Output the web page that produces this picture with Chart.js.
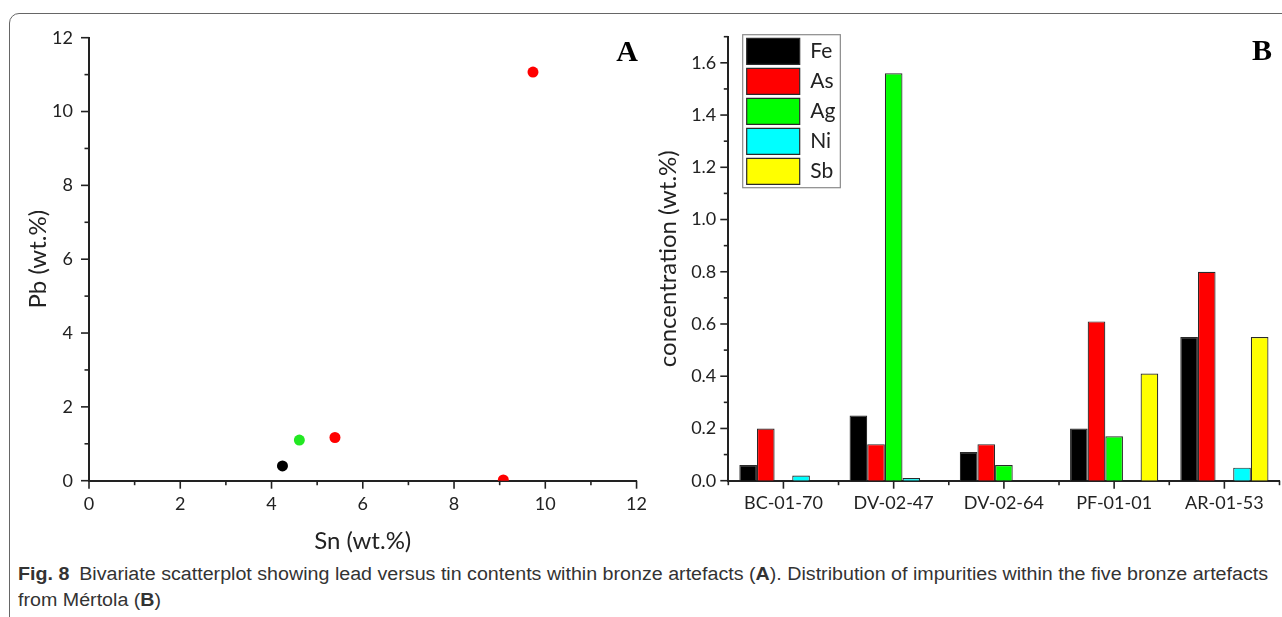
<!DOCTYPE html>
<html>
<head>
<meta charset="utf-8">
<script src="https://cdn.jsdelivr.net/npm/chart.js@4/dist/chart.umd.min.js"></script>
<style>
html,body{margin:0;padding:0;background:#fff;width:1282px;height:617px;overflow:hidden;}
#frame{position:absolute;left:9px;top:12.5px;width:1300px;height:700px;border:1.5px solid #666;border-top-left-radius:10px;box-sizing:border-box;}
#c1{position:absolute;left:0;top:0;}
#c2{position:absolute;left:640px;top:0;}
.panel{position:absolute;width:40px;text-align:center;font-family:"Liberation Serif","Times New Roman",serif;font-weight:bold;font-size:30px;line-height:30px;color:#000;}
#caption{position:absolute;left:18px;top:561px;font-family:"Liberation Sans Narrow","Liberation Sans",Arial,sans-serif;font-size:18px;color:#333;line-height:26px;white-space:nowrap;transform-origin:0 0;}
#caption b{color:#333;}
</style>
</head>
<body>
<div id="frame"></div>
<canvas id="c1" width="660" height="560"></canvas>
<canvas id="c2" width="642" height="560"></canvas>
<div class="panel" style="left:607px;top:35.5px;">A</div>
<div class="panel" style="left:1242px;top:35px;">B</div>
<div id="caption"><span id="line1"><b>Fig. 8</b>&ensp;Bivariate scatterplot showing lead versus tin contents within bronze artefacts (<b>A</b>). Distribution of impurities within the five bronze artefacts</span><br><span>from Mértola (<b>B</b>)</span></div>
<script>
// ---------- data: panel A (scatter) ----------
const snValues = [4.24, 4.61, 5.39, 9.08, 9.73];
const pbValues = [0.40, 1.10, 1.17, 0.02, 11.07];
const pointColors = ['#000000', '#22e822', '#ff0000', '#ff0000', '#ff0000'];
const snTicks = [0, 2, 4, 6, 8, 10, 12];
const pbTicks = [0, 2, 4, 6, 8, 10, 12];

// ---------- data: panel B (bars) ----------
const samples = ['BC-01-70', 'DV-02-47', 'DV-02-64', 'PF-01-01', 'AR-01-53'];
const elements = ['Fe', 'As', 'Ag', 'Ni', 'Sb'];
const feValues = [0.06, 0.25, 0.11, 0.20, 0.55];
const asValues = [0.20, 0.14, 0.14, 0.61, 0.80];
const agValues = [0.00, 1.56, 0.06, 0.17, 0.00];
const niValues = [0.02, 0.01, 0.00, 0.00, 0.05];
const sbValues = [0.00, 0.00, 0.00, 0.41, 0.55];
const elementColors = ['#000000', '#ff0000', '#00ff00', '#00ffff', '#ffff00'];
const concTicks = [0.0, 0.2, 0.4, 0.6, 0.8, 1.0, 1.2, 1.4, 1.6];

const FONT = 'Lato, "Open Sans", sans-serif';
const TXT = '#222';

function midpoints(arr, extraEnd) {
  const out = [];
  for (let i = 0; i < arr.length - 1; i++) out.push((arr[i] + arr[i + 1]) / 2);
  if (extraEnd !== undefined) out.push(extraEnd);
  return out;
}

// draws outward tick marks through the chart's own scales
const tickMarks = {
  id: 'tickMarks',
  afterDraw(chart, args, opts) {
    const ctx = chart.ctx;
    ctx.save();
    ctx.strokeStyle = opts.color;
    ctx.lineWidth = opts.width;
    Object.keys(opts.scales).forEach(id => {
      const s = chart.scales[id];
      const cfg = opts.scales[id];
      const draw = (vals, len) => vals.forEach(v => {
        const p = s.getPixelForValue(v);
        ctx.beginPath();
        if (s.isHorizontal()) { ctx.moveTo(p, s.top); ctx.lineTo(p, s.top + len); }
        else { ctx.moveTo(s.right, p); ctx.lineTo(s.right - len, p); }
        ctx.stroke();
      });
      draw(cfg.major, cfg.majorLen);
      draw(cfg.minor, cfg.minorLen);
    });
    ctx.restore();
  }
};

// ---------- panel A ----------
new Chart(document.getElementById('c1'), {
  type: 'scatter',
  data: {
    datasets: [{
      label: 'Pb vs Sn',
      data: snValues.map((x, i) => ({ x: x, y: pbValues[i] })),
      pointBackgroundColor: pointColors,
      pointBorderColor: pointColors,
      pointRadius: 5.5,
      pointBorderWidth: 0
    }]
  },
  options: {
    responsive: false,
    animation: false,
    events: [],
    layout: { padding: { left: 0, top: 37.7, right: 21, bottom: 0 } },
    plugins: {
      legend: { display: false },
      tooltip: { enabled: false },
      tickMarks: {
        color: '#222', width: 1.6,
        scales: {
          x: { major: snTicks, minor: midpoints(snTicks), majorLen: 8, minorLen: 4.5 },
          y: { major: pbTicks, minor: midpoints(pbTicks), majorLen: 8, minorLen: 4.5 }
        }
      }
    },
    scales: {
      x: {
        type: 'linear', min: 0, max: 12,
        afterBuildTicks: s => { s.ticks = snTicks.map(v => ({ value: v })); },
        afterFit: s => { s.height = 79.3; },
        grid: { display: false, drawTicks: false },
        border: { display: true, color: '#222', width: 2 },
        ticks: { padding: 13, color: TXT, font: { family: FONT, size: 18 }, callback: v => String(v) },
        title: { display: true, text: 'Sn (wt.%)', color: TXT, font: { family: FONT, size: 24 }, padding: { top: 0, bottom: 4.6 } }
      },
      y: {
        type: 'linear', min: 0, max: 12,
        afterBuildTicks: s => { s.ticks = pbTicks.map(v => ({ value: v })); },
        afterFit: s => { s.width = 89; },
        grid: { display: false, drawTicks: false },
        border: { display: true, color: '#222', width: 2 },
        ticks: { padding: 16, color: TXT, font: { family: FONT, size: 18 }, callback: v => String(v) },
        title: { display: true, text: 'Pb (wt.%)', color: TXT, font: { family: FONT, size: 24 }, padding: { top: 23.6, bottom: 0 } }
      }
    }
  },
  plugins: [tickMarks]
});

// ---------- panel B ----------
const LEG_X = 106.7, LEG_Y = 38.3, LEG_PAD = 4;
const legendPlace = {
  id: 'legendPlace',
  afterLayout(chart) {
    const lg = chart.legend;
    if (!lg) return;
    lg.left = LEG_X - LEG_PAD;
    lg.top = LEG_Y - LEG_PAD;
  },
  afterDraw(chart) {
    const lg = chart.legend;
    const ctx = chart.ctx;
    const lo = lg.options.labels;
    ctx.save();
    ctx.font = lo.font.size + 'px ' + lo.font.family;
    let maxW = 0;
    lg.legendItems.forEach(it => { maxW = Math.max(maxW, ctx.measureText(it.text).width); });
    const x0 = LEG_X - 4, y0 = LEG_Y - 3.6;
    const x1 = LEG_X + lo.boxWidth + lo.font.size / 2 + maxW + 5;
    const n = lg.legendItems.length;
    const y1 = LEG_Y + (n - 1) * (lo.boxHeight + lo.padding) + lo.boxHeight + 3.4;
    ctx.strokeStyle = '#8a8a8a';
    ctx.lineWidth = 1.2;
    ctx.strokeRect(x0, y0, x1 - x0, y1 - y0);
    ctx.restore();
  }
};

const seriesValues = [feValues, asValues, agValues, niValues, sbValues];
new Chart(document.getElementById('c2'), {
  type: 'bar',
  data: {
    labels: samples,
    datasets: elements.map((el, i) => ({
      label: el,
      data: seriesValues[i],
      backgroundColor: elementColors[i],
      borderColor: '#2a2a2a',
      borderWidth: 1.2,
      barPercentage: 1.0,
      categoryPercentage: 0.8
    }))
  },
  options: {
    responsive: false,
    animation: false,
    events: [],
    layout: { padding: { left: 0, top: 36.7, right: 2.5, bottom: 0 } },
    plugins: {
      tooltip: { enabled: false },
      legend: {
        display: true,
        position: 'chartArea',
        align: 'start',
        labels: {
          boxWidth: 53, boxHeight: 26, padding: LEG_PAD,
          color: TXT, font: { family: FONT, size: 21 }
        }
      },
      tickMarks: {
        color: '#222', width: 1.6,
        scales: {
          x: {
            major: samples.map((s, i) => i),
            minor: samples.map((s, i) => i - 0.5).concat([samples.length - 0.5]),
            majorLen: 8, minorLen: 4.5
          },
          y: { major: concTicks, minor: midpoints(concTicks, 1.7), majorLen: 8, minorLen: 4.5 }
        }
      }
    },
    scales: {
      x: {
        type: 'category',
        afterFit: s => { s.height = 79.3; },
        grid: { display: false, drawTicks: false, offset: true },
        border: { display: true, color: '#222', width: 2 },
        ticks: { padding: 12, color: TXT, font: { family: FONT, size: 18 } }
      },
      y: {
        type: 'linear', min: 0, max: 1.7,
        afterBuildTicks: s => { s.ticks = concTicks.map(v => ({ value: v })); },
        afterFit: s => { s.width = 88.3; },
        grid: { display: false, drawTicks: false },
        border: { display: true, color: '#222', width: 2 },
        ticks: { padding: 12, color: TXT, font: { family: FONT, size: 18 }, callback: v => v.toFixed(1) },
        title: { display: true, text: 'concentration (wt.%)', color: TXT, font: { family: FONT, size: 24 }, padding: { top: 13.6, bottom: 0 } }
      }
    }
  },
  plugins: [tickMarks, legendPlace]
});

// fit caption first line to the reference width (condensed look)
(function () {
  const cap = document.getElementById('caption');
  const l1 = document.getElementById('line1');
  const w = l1.getBoundingClientRect().width;
  const target = 1250;
  cap.style.transform = 'scaleX(' + (target / w).toFixed(4) + ')';
})();
</script>
</body>
</html>
